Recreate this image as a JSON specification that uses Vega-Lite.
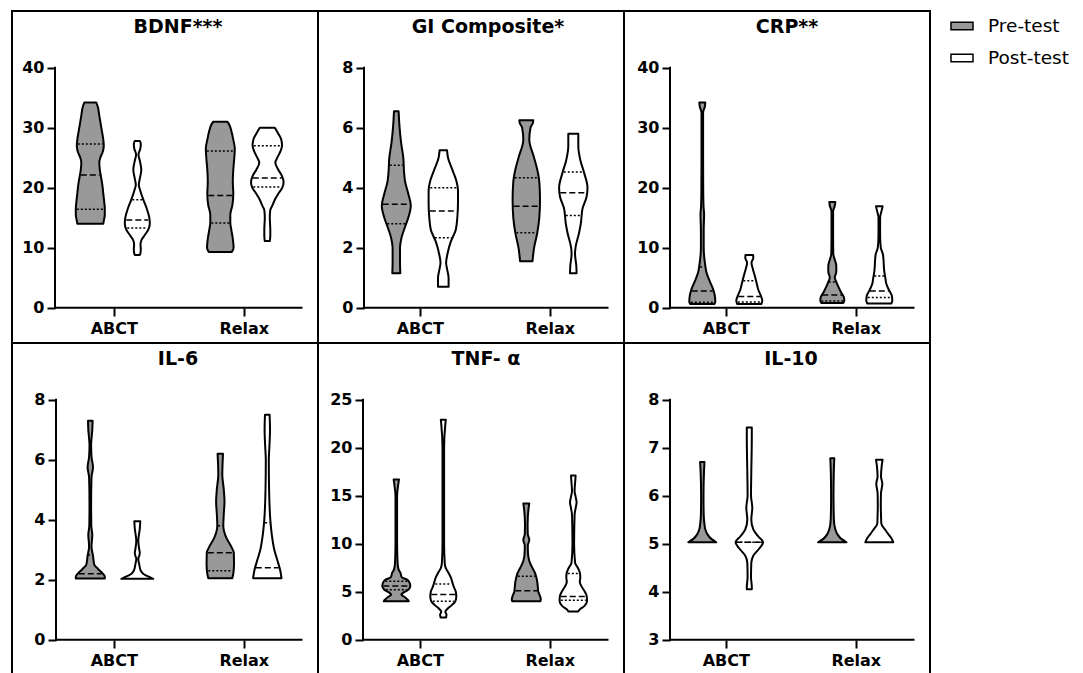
{
"$schema": "https://vega.github.io/schema/vega-lite/v6.json",
"padding": {"left": 11, "top": 10, "right": 0, "bottom": 0},
"background": "white",
"data": {"values": [
{"p":"BDNF","g":"A","c":"Pre-test","v":34.2,"w":0.6},{"p":"BDNF","g":"A","c":"Pre-test","v":33.5,"w":0.75},{"p":"BDNF","g":"A","c":"Pre-test","v":32,"w":0.9},{"p":"BDNF","g":"A","c":"Pre-test","v":30,"w":1.1},{"p":"BDNF","g":"A","c":"Pre-test","v":28,"w":1.3},{"p":"BDNF","g":"A","c":"Pre-test","v":27,"w":1.35},{"p":"BDNF","g":"A","c":"Pre-test","v":26,"w":1.25},{"p":"BDNF","g":"A","c":"Pre-test","v":25,"w":1.0},{"p":"BDNF","g":"A","c":"Pre-test","v":24.2,"w":0.9},{"p":"BDNF","g":"A","c":"Pre-test","v":23,"w":0.95},{"p":"BDNF","g":"A","c":"Pre-test","v":22,"w":1.05},{"p":"BDNF","g":"A","c":"Pre-test","v":20.5,"w":1.2},{"p":"BDNF","g":"A","c":"Pre-test","v":19,"w":1.3},{"p":"BDNF","g":"A","c":"Pre-test","v":17.5,"w":1.4},{"p":"BDNF","g":"A","c":"Pre-test","v":16.5,"w":1.45},{"p":"BDNF","g":"A","c":"Pre-test","v":15.5,"w":1.45},{"p":"BDNF","g":"A","c":"Pre-test","v":14.5,"w":1.35},{"p":"BDNF","g":"A","c":"Pre-test","v":14,"w":1.3},
{"p":"BDNF","g":"A","c":"Pre-test","k":"m","v":22.1,"w":0.95},{"p":"BDNF","g":"A","c":"Pre-test","k":"q","v":27.3,"w":1.25},{"p":"BDNF","g":"A","c":"Pre-test","k":"q","v":16.4,"w":1.35},
{"p":"BDNF","g":"A","c":"Post-test","v":27.8,"w":0.25},{"p":"BDNF","g":"A","c":"Post-test","v":27.3,"w":0.35},{"p":"BDNF","g":"A","c":"Post-test","v":26.5,"w":0.3},{"p":"BDNF","g":"A","c":"Post-test","v":25.5,"w":0.12},{"p":"BDNF","g":"A","c":"Post-test","v":24.5,"w":0.25},{"p":"BDNF","g":"A","c":"Post-test","v":23,"w":0.4},{"p":"BDNF","g":"A","c":"Post-test","v":21.5,"w":0.25},{"p":"BDNF","g":"A","c":"Post-test","v":20.5,"w":0.15},{"p":"BDNF","g":"A","c":"Post-test","v":19.5,"w":0.3},{"p":"BDNF","g":"A","c":"Post-test","v":18,"w":0.6},{"p":"BDNF","g":"A","c":"Post-test","v":16.5,"w":0.95},{"p":"BDNF","g":"A","c":"Post-test","v":15,"w":1.2},{"p":"BDNF","g":"A","c":"Post-test","v":14,"w":1.25},{"p":"BDNF","g":"A","c":"Post-test","v":13,"w":1.1},{"p":"BDNF","g":"A","c":"Post-test","v":12,"w":0.7},{"p":"BDNF","g":"A","c":"Post-test","v":11.2,"w":0.4},{"p":"BDNF","g":"A","c":"Post-test","v":10.5,"w":0.32},{"p":"BDNF","g":"A","c":"Post-test","v":9.8,"w":0.35},{"p":"BDNF","g":"A","c":"Post-test","v":9,"w":0.3},{"p":"BDNF","g":"A","c":"Post-test","v":8.8,"w":0.25},
{"p":"BDNF","g":"A","c":"Post-test","k":"m","v":14.6,"w":1.1},{"p":"BDNF","g":"A","c":"Post-test","k":"q","v":13.3,"w":1.0},{"p":"BDNF","g":"A","c":"Post-test","k":"q","v":18,"w":0.5},
{"p":"BDNF","g":"R","c":"Pre-test","v":31,"w":0.7},{"p":"BDNF","g":"R","c":"Pre-test","v":30.5,"w":0.9},{"p":"BDNF","g":"R","c":"Pre-test","v":29.5,"w":1.1},{"p":"BDNF","g":"R","c":"Pre-test","v":28,"w":1.3},{"p":"BDNF","g":"R","c":"Pre-test","v":26.5,"w":1.45},{"p":"BDNF","g":"R","c":"Pre-test","v":25,"w":1.4},{"p":"BDNF","g":"R","c":"Pre-test","v":23,"w":1.3},{"p":"BDNF","g":"R","c":"Pre-test","v":21,"w":1.25},{"p":"BDNF","g":"R","c":"Pre-test","v":19,"w":1.3},{"p":"BDNF","g":"R","c":"Pre-test","v":17,"w":1.2},{"p":"BDNF","g":"R","c":"Pre-test","v":15.5,"w":1.0},{"p":"BDNF","g":"R","c":"Pre-test","v":14.2,"w":1.0},{"p":"BDNF","g":"R","c":"Pre-test","v":13,"w":1.1},{"p":"BDNF","g":"R","c":"Pre-test","v":11.5,"w":1.25},{"p":"BDNF","g":"R","c":"Pre-test","v":10,"w":1.33},{"p":"BDNF","g":"R","c":"Pre-test","v":9.3,"w":1.15},
{"p":"BDNF","g":"R","c":"Pre-test","k":"m","v":18.7,"w":1.2},{"p":"BDNF","g":"R","c":"Pre-test","k":"q","v":26.1,"w":1.35},{"p":"BDNF","g":"R","c":"Pre-test","k":"q","v":14.1,"w":0.9},
{"p":"BDNF","g":"R","c":"Post-test","v":30,"w":0.75},{"p":"BDNF","g":"R","c":"Post-test","v":29,"w":1.1},{"p":"BDNF","g":"R","c":"Post-test","v":28,"w":1.4},{"p":"BDNF","g":"R","c":"Post-test","v":27,"w":1.47},{"p":"BDNF","g":"R","c":"Post-test","v":26,"w":1.3},{"p":"BDNF","g":"R","c":"Post-test","v":25,"w":1.0},{"p":"BDNF","g":"R","c":"Post-test","v":24.2,"w":0.8},{"p":"BDNF","g":"R","c":"Post-test","v":23,"w":1.1},{"p":"BDNF","g":"R","c":"Post-test","v":22,"w":1.45},{"p":"BDNF","g":"R","c":"Post-test","v":21,"w":1.63},{"p":"BDNF","g":"R","c":"Post-test","v":20,"w":1.5},{"p":"BDNF","g":"R","c":"Post-test","v":19,"w":1.1},{"p":"BDNF","g":"R","c":"Post-test","v":18,"w":0.75},{"p":"BDNF","g":"R","c":"Post-test","v":17,"w":0.5},{"p":"BDNF","g":"R","c":"Post-test","v":16.3,"w":0.3},{"p":"BDNF","g":"R","c":"Post-test","v":15,"w":0.25},{"p":"BDNF","g":"R","c":"Post-test","v":13,"w":0.3},{"p":"BDNF","g":"R","c":"Post-test","v":12,"w":0.3},{"p":"BDNF","g":"R","c":"Post-test","v":11.1,"w":0.25},
{"p":"BDNF","g":"R","c":"Post-test","k":"m","v":21.6,"w":1.45},{"p":"BDNF","g":"R","c":"Post-test","k":"q","v":27,"w":1.35},{"p":"BDNF","g":"R","c":"Post-test","k":"q","v":20.1,"w":1.4},

{"p":"GI","g":"A","c":"Pre-test","v":6.55,"w":0.23},{"p":"GI","g":"A","c":"Pre-test","v":6,"w":0.33},{"p":"GI","g":"A","c":"Pre-test","v":5.5,"w":0.48},{"p":"GI","g":"A","c":"Pre-test","v":5,"w":0.7},{"p":"GI","g":"A","c":"Pre-test","v":4.5,"w":0.78},{"p":"GI","g":"A","c":"Pre-test","v":4.2,"w":0.88},{"p":"GI","g":"A","c":"Pre-test","v":3.8,"w":1.2},{"p":"GI","g":"A","c":"Pre-test","v":3.4,"w":1.45},{"p":"GI","g":"A","c":"Pre-test","v":3.0,"w":1.2},{"p":"GI","g":"A","c":"Pre-test","v":2.7,"w":0.88},{"p":"GI","g":"A","c":"Pre-test","v":2.3,"w":0.5},{"p":"GI","g":"A","c":"Pre-test","v":2.0,"w":0.37},{"p":"GI","g":"A","c":"Pre-test","v":1.5,"w":0.37},{"p":"GI","g":"A","c":"Pre-test","v":1.15,"w":0.4},
{"p":"GI","g":"A","c":"Pre-test","k":"m","v":3.45,"w":1.35},{"p":"GI","g":"A","c":"Pre-test","k":"q","v":2.8,"w":0.9},{"p":"GI","g":"A","c":"Pre-test","k":"q","v":4.75,"w":0.65},
{"p":"GI","g":"A","c":"Post-test","v":5.25,"w":0.37},{"p":"GI","g":"A","c":"Post-test","v":5.0,"w":0.47},{"p":"GI","g":"A","c":"Post-test","v":4.6,"w":0.9},{"p":"GI","g":"A","c":"Post-test","v":4.2,"w":1.33},{"p":"GI","g":"A","c":"Post-test","v":3.9,"w":1.47},{"p":"GI","g":"A","c":"Post-test","v":3.5,"w":1.47},{"p":"GI","g":"A","c":"Post-test","v":3.0,"w":1.4},{"p":"GI","g":"A","c":"Post-test","v":2.6,"w":1.25},{"p":"GI","g":"A","c":"Post-test","v":2.2,"w":0.75},{"p":"GI","g":"A","c":"Post-test","v":1.8,"w":0.42},{"p":"GI","g":"A","c":"Post-test","v":1.5,"w":0.28},{"p":"GI","g":"A","c":"Post-test","v":1.3,"w":0.37},{"p":"GI","g":"A","c":"Post-test","v":1.0,"w":0.53},{"p":"GI","g":"A","c":"Post-test","v":0.7,"w":0.53},
{"p":"GI","g":"A","c":"Post-test","k":"m","v":3.22,"w":1.35},{"p":"GI","g":"A","c":"Post-test","k":"q","v":4.0,"w":1.3},{"p":"GI","g":"A","c":"Post-test","k":"q","v":2.33,"w":0.85},
{"p":"GI","g":"R","c":"Pre-test","v":6.25,"w":0.7},{"p":"GI","g":"R","c":"Pre-test","v":6.15,"w":0.65},{"p":"GI","g":"R","c":"Pre-test","v":6.0,"w":0.42},{"p":"GI","g":"R","c":"Pre-test","v":5.6,"w":0.3},{"p":"GI","g":"R","c":"Pre-test","v":5.0,"w":0.78},{"p":"GI","g":"R","c":"Pre-test","v":4.6,"w":1.1},{"p":"GI","g":"R","c":"Pre-test","v":4.2,"w":1.3},{"p":"GI","g":"R","c":"Pre-test","v":3.6,"w":1.37},{"p":"GI","g":"R","c":"Pre-test","v":3.0,"w":1.3},{"p":"GI","g":"R","c":"Pre-test","v":2.5,"w":1.1},{"p":"GI","g":"R","c":"Pre-test","v":2.0,"w":0.78},{"p":"GI","g":"R","c":"Pre-test","v":1.55,"w":0.62},
{"p":"GI","g":"R","c":"Pre-test","k":"m","v":3.38,"w":1.27},{"p":"GI","g":"R","c":"Pre-test","k":"q","v":4.33,"w":1.15},{"p":"GI","g":"R","c":"Pre-test","k":"q","v":2.5,"w":1.0},
{"p":"GI","g":"R","c":"Post-test","v":5.8,"w":0.5},{"p":"GI","g":"R","c":"Post-test","v":5.4,"w":0.5},{"p":"GI","g":"R","c":"Post-test","v":4.9,"w":0.72},{"p":"GI","g":"R","c":"Post-test","v":4.5,"w":1.08},{"p":"GI","g":"R","c":"Post-test","v":4.0,"w":1.42},{"p":"GI","g":"R","c":"Post-test","v":3.7,"w":1.33},{"p":"GI","g":"R","c":"Post-test","v":3.3,"w":0.92},{"p":"GI","g":"R","c":"Post-test","v":2.8,"w":0.75},{"p":"GI","g":"R","c":"Post-test","v":2.5,"w":0.58},{"p":"GI","g":"R","c":"Post-test","v":2.0,"w":0.22},{"p":"GI","g":"R","c":"Post-test","v":1.8,"w":0.17},{"p":"GI","g":"R","c":"Post-test","v":1.4,"w":0.3},{"p":"GI","g":"R","c":"Post-test","v":1.15,"w":0.33},
{"p":"GI","g":"R","c":"Post-test","k":"m","v":3.83,"w":1.3},{"p":"GI","g":"R","c":"Post-test","k":"q","v":4.52,"w":0.95},{"p":"GI","g":"R","c":"Post-test","k":"q","v":3.07,"w":0.75},

{"p":"CRP","g":"A","c":"Pre-test","v":34.2,"w":0.3},{"p":"CRP","g":"A","c":"Pre-test","v":33.5,"w":0.25},{"p":"CRP","g":"A","c":"Pre-test","v":32.5,"w":0.08},{"p":"CRP","g":"A","c":"Pre-test","v":30,"w":0.08},{"p":"CRP","g":"A","c":"Pre-test","v":25,"w":0.08},{"p":"CRP","g":"A","c":"Pre-test","v":20,"w":0.09},{"p":"CRP","g":"A","c":"Pre-test","v":17,"w":0.12},{"p":"CRP","g":"A","c":"Pre-test","v":15.5,"w":0.18},{"p":"CRP","g":"A","c":"Pre-test","v":13,"w":0.14},{"p":"CRP","g":"A","c":"Pre-test","v":10,"w":0.14},{"p":"CRP","g":"A","c":"Pre-test","v":8,"w":0.22},{"p":"CRP","g":"A","c":"Pre-test","v":7,"w":0.3},{"p":"CRP","g":"A","c":"Pre-test","v":6,"w":0.4},{"p":"CRP","g":"A","c":"Pre-test","v":5,"w":0.6},{"p":"CRP","g":"A","c":"Pre-test","v":4,"w":0.85},{"p":"CRP","g":"A","c":"Pre-test","v":3,"w":1.1},{"p":"CRP","g":"A","c":"Pre-test","v":2,"w":1.25},{"p":"CRP","g":"A","c":"Pre-test","v":1,"w":1.3},{"p":"CRP","g":"A","c":"Pre-test","v":0.6,"w":1.2},
{"p":"CRP","g":"A","c":"Pre-test","k":"m","v":2.8,"w":1.05},{"p":"CRP","g":"A","c":"Pre-test","k":"q","v":6.8,"w":0.22},{"p":"CRP","g":"A","c":"Pre-test","k":"q","v":0.9,"w":1.15},
{"p":"CRP","g":"A","c":"Post-test","v":8.8,"w":0.38},{"p":"CRP","g":"A","c":"Post-test","v":8.3,"w":0.4},{"p":"CRP","g":"A","c":"Post-test","v":7.5,"w":0.22},{"p":"CRP","g":"A","c":"Post-test","v":6.5,"w":0.35},{"p":"CRP","g":"A","c":"Post-test","v":5,"w":0.6},{"p":"CRP","g":"A","c":"Post-test","v":4,"w":0.75},{"p":"CRP","g":"A","c":"Post-test","v":3,"w":0.9},{"p":"CRP","g":"A","c":"Post-test","v":2,"w":1.15},{"p":"CRP","g":"A","c":"Post-test","v":1.2,"w":1.3},{"p":"CRP","g":"A","c":"Post-test","v":0.6,"w":1.2},
{"p":"CRP","g":"A","c":"Post-test","k":"m","v":1.85,"w":1.1},{"p":"CRP","g":"A","c":"Post-test","k":"q","v":4.5,"w":0.6},{"p":"CRP","g":"A","c":"Post-test","k":"q","v":0.95,"w":1.15},
{"p":"CRP","g":"R","c":"Pre-test","v":17.6,"w":0.3},{"p":"CRP","g":"R","c":"Pre-test","v":17,"w":0.25},{"p":"CRP","g":"R","c":"Pre-test","v":16,"w":0.08},{"p":"CRP","g":"R","c":"Pre-test","v":12,"w":0.08},{"p":"CRP","g":"R","c":"Pre-test","v":9,"w":0.1},{"p":"CRP","g":"R","c":"Pre-test","v":8,"w":0.25},{"p":"CRP","g":"R","c":"Pre-test","v":7,"w":0.4},{"p":"CRP","g":"R","c":"Pre-test","v":6,"w":0.4},{"p":"CRP","g":"R","c":"Pre-test","v":5,"w":0.25},{"p":"CRP","g":"R","c":"Pre-test","v":4.5,"w":0.35},{"p":"CRP","g":"R","c":"Pre-test","v":3.5,"w":0.6},{"p":"CRP","g":"R","c":"Pre-test","v":2.5,"w":0.9},{"p":"CRP","g":"R","c":"Pre-test","v":1.8,"w":1.15},{"p":"CRP","g":"R","c":"Pre-test","v":1.2,"w":1.2},{"p":"CRP","g":"R","c":"Pre-test","v":0.8,"w":1.1},
{"p":"CRP","g":"R","c":"Pre-test","k":"m","v":2.1,"w":1.0},{"p":"CRP","g":"R","c":"Pre-test","k":"q","v":4.3,"w":0.35},{"p":"CRP","g":"R","c":"Pre-test","k":"q","v":1.1,"w":1.1},
{"p":"CRP","g":"R","c":"Post-test","v":16.9,"w":0.33},{"p":"CRP","g":"R","c":"Post-test","v":16.3,"w":0.25},{"p":"CRP","g":"R","c":"Post-test","v":15,"w":0.08},{"p":"CRP","g":"R","c":"Post-test","v":12,"w":0.08},{"p":"CRP","g":"R","c":"Post-test","v":10,"w":0.15},{"p":"CRP","g":"R","c":"Post-test","v":9,"w":0.35},{"p":"CRP","g":"R","c":"Post-test","v":8,"w":0.42},{"p":"CRP","g":"R","c":"Post-test","v":7,"w":0.45},{"p":"CRP","g":"R","c":"Post-test","v":6,"w":0.5},{"p":"CRP","g":"R","c":"Post-test","v":5,"w":0.6},{"p":"CRP","g":"R","c":"Post-test","v":4,"w":0.7},{"p":"CRP","g":"R","c":"Post-test","v":3,"w":0.95},{"p":"CRP","g":"R","c":"Post-test","v":2,"w":1.25},{"p":"CRP","g":"R","c":"Post-test","v":1.2,"w":1.3},{"p":"CRP","g":"R","c":"Post-test","v":0.7,"w":1.2},
{"p":"CRP","g":"R","c":"Post-test","k":"m","v":2.8,"w":0.95},{"p":"CRP","g":"R","c":"Post-test","k":"q","v":5.3,"w":0.5},{"p":"CRP","g":"R","c":"Post-test","k":"q","v":1.7,"w":1.15},

{"p":"IL6","g":"A","c":"Pre-test","v":7.3,"w":0.23},{"p":"IL6","g":"A","c":"Pre-test","v":7.0,"w":0.2},{"p":"IL6","g":"A","c":"Pre-test","v":6.5,"w":0.08},{"p":"IL6","g":"A","c":"Pre-test","v":6.1,"w":0.12},{"p":"IL6","g":"A","c":"Pre-test","v":5.75,"w":0.27},{"p":"IL6","g":"A","c":"Pre-test","v":5.4,"w":0.12},{"p":"IL6","g":"A","c":"Pre-test","v":4.5,"w":0.08},{"p":"IL6","g":"A","c":"Pre-test","v":3.8,"w":0.1},{"p":"IL6","g":"A","c":"Pre-test","v":3.5,"w":0.2},{"p":"IL6","g":"A","c":"Pre-test","v":3.1,"w":0.12},{"p":"IL6","g":"A","c":"Pre-test","v":2.8,"w":0.27},{"p":"IL6","g":"A","c":"Pre-test","v":2.5,"w":0.4},{"p":"IL6","g":"A","c":"Pre-test","v":2.35,"w":0.8},{"p":"IL6","g":"A","c":"Pre-test","v":2.2,"w":1.25},{"p":"IL6","g":"A","c":"Pre-test","v":2.1,"w":1.45},{"p":"IL6","g":"A","c":"Pre-test","v":2.04,"w":1.45},
{"p":"IL6","g":"A","c":"Pre-test","k":"m","v":2.2,"w":1.15},{"p":"IL6","g":"A","c":"Pre-test","k":"q","v":2.82,"w":0.22},
{"p":"IL6","g":"A","c":"Post-test","v":3.95,"w":0.3},{"p":"IL6","g":"A","c":"Post-test","v":3.7,"w":0.25},{"p":"IL6","g":"A","c":"Post-test","v":3.3,"w":0.1},{"p":"IL6","g":"A","c":"Post-test","v":3.0,"w":0.2},{"p":"IL6","g":"A","c":"Post-test","v":2.9,"w":0.25},{"p":"IL6","g":"A","c":"Post-test","v":2.8,"w":0.2},{"p":"IL6","g":"A","c":"Post-test","v":2.7,"w":0.1},{"p":"IL6","g":"A","c":"Post-test","v":2.5,"w":0.2},{"p":"IL6","g":"A","c":"Post-test","v":2.3,"w":0.35},{"p":"IL6","g":"A","c":"Post-test","v":2.15,"w":0.8},{"p":"IL6","g":"A","c":"Post-test","v":2.08,"w":1.3},{"p":"IL6","g":"A","c":"Post-test","v":2.03,"w":1.6},
{"p":"IL6","g":"R","c":"Pre-test","v":6.2,"w":0.27},{"p":"IL6","g":"R","c":"Pre-test","v":5.9,"w":0.23},{"p":"IL6","g":"R","c":"Pre-test","v":5.5,"w":0.2},{"p":"IL6","g":"R","c":"Pre-test","v":5.0,"w":0.35},{"p":"IL6","g":"R","c":"Pre-test","v":4.6,"w":0.42},{"p":"IL6","g":"R","c":"Pre-test","v":4.2,"w":0.35},{"p":"IL6","g":"R","c":"Pre-test","v":3.8,"w":0.3},{"p":"IL6","g":"R","c":"Pre-test","v":3.4,"w":0.6},{"p":"IL6","g":"R","c":"Pre-test","v":3.1,"w":1.1},{"p":"IL6","g":"R","c":"Pre-test","v":2.9,"w":1.35},{"p":"IL6","g":"R","c":"Pre-test","v":2.5,"w":1.37},{"p":"IL6","g":"R","c":"Pre-test","v":2.2,"w":1.3},{"p":"IL6","g":"R","c":"Pre-test","v":2.05,"w":1.2},
{"p":"IL6","g":"R","c":"Pre-test","k":"m","v":2.9,"w":1.25},{"p":"IL6","g":"R","c":"Pre-test","k":"q","v":3.8,"w":0.22},{"p":"IL6","g":"R","c":"Pre-test","k":"q","v":2.3,"w":1.2},
{"p":"IL6","g":"R","c":"Post-test","v":7.5,"w":0.23},{"p":"IL6","g":"R","c":"Post-test","v":7.0,"w":0.27},{"p":"IL6","g":"R","c":"Post-test","v":6.5,"w":0.22},{"p":"IL6","g":"R","c":"Post-test","v":6.0,"w":0.15},{"p":"IL6","g":"R","c":"Post-test","v":5.0,"w":0.18},{"p":"IL6","g":"R","c":"Post-test","v":4.0,"w":0.3},{"p":"IL6","g":"R","c":"Post-test","v":3.5,"w":0.45},{"p":"IL6","g":"R","c":"Post-test","v":3.0,"w":0.7},{"p":"IL6","g":"R","c":"Post-test","v":2.6,"w":1.05},{"p":"IL6","g":"R","c":"Post-test","v":2.3,"w":1.3},{"p":"IL6","g":"R","c":"Post-test","v":2.05,"w":1.42},
{"p":"IL6","g":"R","c":"Post-test","k":"m","v":2.4,"w":1.15},{"p":"IL6","g":"R","c":"Post-test","k":"q","v":3.9,"w":0.22},

{"p":"TNF","g":"A","c":"Pre-test","v":16.7,"w":0.27},{"p":"TNF","g":"A","c":"Pre-test","v":16.2,"w":0.2},{"p":"TNF","g":"A","c":"Pre-test","v":15,"w":0.08},{"p":"TNF","g":"A","c":"Pre-test","v":10,"w":0.08},{"p":"TNF","g":"A","c":"Pre-test","v":8,"w":0.13},{"p":"TNF","g":"A","c":"Pre-test","v":7.3,"w":0.23},{"p":"TNF","g":"A","c":"Pre-test","v":7.0,"w":0.4},{"p":"TNF","g":"A","c":"Pre-test","v":6.5,"w":0.55},{"p":"TNF","g":"A","c":"Pre-test","v":6.3,"w":1.0},{"p":"TNF","g":"A","c":"Pre-test","v":6.0,"w":1.3},{"p":"TNF","g":"A","c":"Pre-test","v":5.6,"w":1.4},{"p":"TNF","g":"A","c":"Pre-test","v":5.2,"w":1.2},{"p":"TNF","g":"A","c":"Pre-test","v":4.9,"w":0.7},{"p":"TNF","g":"A","c":"Pre-test","v":4.7,"w":0.5},{"p":"TNF","g":"A","c":"Pre-test","v":4.4,"w":0.9},{"p":"TNF","g":"A","c":"Pre-test","v":4.1,"w":1.2},{"p":"TNF","g":"A","c":"Pre-test","v":4.0,"w":1.25},
{"p":"TNF","g":"A","c":"Pre-test","k":"m","v":5.6,"w":1.3},{"p":"TNF","g":"A","c":"Pre-test","k":"q","v":6.1,"w":1.1},{"p":"TNF","g":"A","c":"Pre-test","k":"q","v":5.2,"w":1.05},
{"p":"TNF","g":"A","c":"Post-test","v":22.9,"w":0.25},{"p":"TNF","g":"A","c":"Post-test","v":22.4,"w":0.2},{"p":"TNF","g":"A","c":"Post-test","v":20,"w":0.08},{"p":"TNF","g":"A","c":"Post-test","v":15,"w":0.08},{"p":"TNF","g":"A","c":"Post-test","v":10,"w":0.08},{"p":"TNF","g":"A","c":"Post-test","v":8,"w":0.14},{"p":"TNF","g":"A","c":"Post-test","v":7.5,"w":0.23},{"p":"TNF","g":"A","c":"Post-test","v":7.0,"w":0.5},{"p":"TNF","g":"A","c":"Post-test","v":6.5,"w":0.75},{"p":"TNF","g":"A","c":"Post-test","v":6.0,"w":0.9},{"p":"TNF","g":"A","c":"Post-test","v":5.5,"w":1.05},{"p":"TNF","g":"A","c":"Post-test","v":5.0,"w":1.25},{"p":"TNF","g":"A","c":"Post-test","v":4.5,"w":1.3},{"p":"TNF","g":"A","c":"Post-test","v":4.0,"w":1.2},{"p":"TNF","g":"A","c":"Post-test","v":3.6,"w":0.85},{"p":"TNF","g":"A","c":"Post-test","v":3.2,"w":0.4},{"p":"TNF","g":"A","c":"Post-test","v":2.9,"w":0.2},{"p":"TNF","g":"A","c":"Post-test","v":2.6,"w":0.32},{"p":"TNF","g":"A","c":"Post-test","v":2.3,"w":0.27},
{"p":"TNF","g":"A","c":"Post-test","k":"m","v":4.7,"w":1.2},{"p":"TNF","g":"A","c":"Post-test","k":"q","v":5.8,"w":0.8},{"p":"TNF","g":"A","c":"Post-test","k":"q","v":4.0,"w":1.05},
{"p":"TNF","g":"R","c":"Pre-test","v":14.2,"w":0.3},{"p":"TNF","g":"R","c":"Pre-test","v":13.7,"w":0.23},{"p":"TNF","g":"R","c":"Pre-test","v":12,"w":0.13},{"p":"TNF","g":"R","c":"Pre-test","v":11,"w":0.15},{"p":"TNF","g":"R","c":"Pre-test","v":10.4,"w":0.3},{"p":"TNF","g":"R","c":"Pre-test","v":9.8,"w":0.15},{"p":"TNF","g":"R","c":"Pre-test","v":9,"w":0.17},{"p":"TNF","g":"R","c":"Pre-test","v":8.2,"w":0.3},{"p":"TNF","g":"R","c":"Pre-test","v":7.5,"w":0.6},{"p":"TNF","g":"R","c":"Pre-test","v":7.0,"w":0.85},{"p":"TNF","g":"R","c":"Pre-test","v":6.5,"w":1.0},{"p":"TNF","g":"R","c":"Pre-test","v":6.0,"w":1.1},{"p":"TNF","g":"R","c":"Pre-test","v":5.5,"w":1.15},{"p":"TNF","g":"R","c":"Pre-test","v":5.0,"w":1.2},{"p":"TNF","g":"R","c":"Pre-test","v":4.6,"w":1.35},{"p":"TNF","g":"R","c":"Pre-test","v":4.2,"w":1.45},{"p":"TNF","g":"R","c":"Pre-test","v":4.0,"w":1.4},
{"p":"TNF","g":"R","c":"Pre-test","k":"m","v":5.1,"w":1.1},{"p":"TNF","g":"R","c":"Pre-test","k":"q","v":6.6,"w":0.85},
{"p":"TNF","g":"R","c":"Post-test","v":17.1,"w":0.23},{"p":"TNF","g":"R","c":"Post-test","v":16.6,"w":0.2},{"p":"TNF","g":"R","c":"Post-test","v":15.5,"w":0.13},{"p":"TNF","g":"R","c":"Post-test","v":14.8,"w":0.25},{"p":"TNF","g":"R","c":"Post-test","v":14.3,"w":0.33},{"p":"TNF","g":"R","c":"Post-test","v":13.8,"w":0.25},{"p":"TNF","g":"R","c":"Post-test","v":13,"w":0.13},{"p":"TNF","g":"R","c":"Post-test","v":10,"w":0.08},{"p":"TNF","g":"R","c":"Post-test","v":8,"w":0.18},{"p":"TNF","g":"R","c":"Post-test","v":7.5,"w":0.45},{"p":"TNF","g":"R","c":"Post-test","v":7.0,"w":0.65},{"p":"TNF","g":"R","c":"Post-test","v":6.5,"w":0.7},{"p":"TNF","g":"R","c":"Post-test","v":6.0,"w":0.65},{"p":"TNF","g":"R","c":"Post-test","v":5.5,"w":0.85},{"p":"TNF","g":"R","c":"Post-test","v":5.0,"w":1.15},{"p":"TNF","g":"R","c":"Post-test","v":4.5,"w":1.35},{"p":"TNF","g":"R","c":"Post-test","v":4.0,"w":1.37},{"p":"TNF","g":"R","c":"Post-test","v":3.5,"w":1.1},{"p":"TNF","g":"R","c":"Post-test","v":3.1,"w":0.6},{"p":"TNF","g":"R","c":"Post-test","v":2.95,"w":0.5},
{"p":"TNF","g":"R","c":"Post-test","k":"m","v":4.5,"w":1.25},{"p":"TNF","g":"R","c":"Post-test","k":"q","v":6.9,"w":0.55},{"p":"TNF","g":"R","c":"Post-test","k":"q","v":4.1,"w":1.25},

{"p":"IL10","g":"A","c":"Pre-test","v":6.7,"w":0.22},{"p":"IL10","g":"A","c":"Pre-test","v":6.5,"w":0.17},{"p":"IL10","g":"A","c":"Pre-test","v":6.0,"w":0.12},{"p":"IL10","g":"A","c":"Pre-test","v":5.6,"w":0.14},{"p":"IL10","g":"A","c":"Pre-test","v":5.4,"w":0.22},{"p":"IL10","g":"A","c":"Pre-test","v":5.3,"w":0.3},{"p":"IL10","g":"A","c":"Pre-test","v":5.2,"w":0.5},{"p":"IL10","g":"A","c":"Pre-test","v":5.1,"w":0.9},{"p":"IL10","g":"A","c":"Pre-test","v":5.03,"w":1.4},
{"p":"IL10","g":"A","c":"Post-test","v":7.42,"w":0.25},{"p":"IL10","g":"A","c":"Post-test","v":7.2,"w":0.25},{"p":"IL10","g":"A","c":"Post-test","v":6.5,"w":0.2},{"p":"IL10","g":"A","c":"Post-test","v":6.0,"w":0.17},{"p":"IL10","g":"A","c":"Post-test","v":5.75,"w":0.3},{"p":"IL10","g":"A","c":"Post-test","v":5.5,"w":0.2},{"p":"IL10","g":"A","c":"Post-test","v":5.3,"w":0.4},{"p":"IL10","g":"A","c":"Post-test","v":5.15,"w":0.9},{"p":"IL10","g":"A","c":"Post-test","v":5.03,"w":1.38},{"p":"IL10","g":"A","c":"Post-test","v":4.9,"w":1.0},{"p":"IL10","g":"A","c":"Post-test","v":4.75,"w":0.4},{"p":"IL10","g":"A","c":"Post-test","v":4.6,"w":0.2},{"p":"IL10","g":"A","c":"Post-test","v":4.3,"w":0.17},{"p":"IL10","g":"A","c":"Post-test","v":4.1,"w":0.25},{"p":"IL10","g":"A","c":"Post-test","v":4.05,"w":0.25},
{"p":"IL10","g":"A","c":"Post-test","k":"m","v":5.03,"w":1.3},{"p":"IL10","g":"A","c":"Post-test","k":"q","v":5.03,"w":1.3},
{"p":"IL10","g":"R","c":"Pre-test","v":6.78,"w":0.2},{"p":"IL10","g":"R","c":"Pre-test","v":6.5,"w":0.15},{"p":"IL10","g":"R","c":"Pre-test","v":6.0,"w":0.12},{"p":"IL10","g":"R","c":"Pre-test","v":5.5,"w":0.16},{"p":"IL10","g":"R","c":"Pre-test","v":5.3,"w":0.3},{"p":"IL10","g":"R","c":"Pre-test","v":5.2,"w":0.5},{"p":"IL10","g":"R","c":"Pre-test","v":5.1,"w":0.9},{"p":"IL10","g":"R","c":"Pre-test","v":5.03,"w":1.42},
{"p":"IL10","g":"R","c":"Post-test","v":6.75,"w":0.33},{"p":"IL10","g":"R","c":"Post-test","v":6.6,"w":0.23},{"p":"IL10","g":"R","c":"Post-test","v":6.4,"w":0.17},{"p":"IL10","g":"R","c":"Post-test","v":6.25,"w":0.3},{"p":"IL10","g":"R","c":"Post-test","v":6.05,"w":0.17},{"p":"IL10","g":"R","c":"Post-test","v":5.8,"w":0.15},{"p":"IL10","g":"R","c":"Post-test","v":5.6,"w":0.17},{"p":"IL10","g":"R","c":"Post-test","v":5.42,"w":0.2},{"p":"IL10","g":"R","c":"Post-test","v":5.3,"w":0.55},{"p":"IL10","g":"R","c":"Post-test","v":5.2,"w":0.9},{"p":"IL10","g":"R","c":"Post-test","v":5.1,"w":1.25},{"p":"IL10","g":"R","c":"Post-test","v":5.03,"w":1.4}
]},
"transform": [
  {"calculate": "(datum.g=='A'?0:13)+(datum.c=='Pre-test'?-2.35:2.35)", "as": "xc"},
  {"calculate": "datum.xc-datum.w", "as": "xl"},
  {"calculate": "datum.xc+datum.w", "as": "xr"}
],
"columns": 3,
"spacing": 0,
"bounds": "flush",
"concat": [
{"width": 306, "height": 332, "title": {"text": "BDNF***", "dx": 13},
 "transform": [{"filter": "datum.p=='BDNF'"}],
 "layer": [
  {"transform": [{"filter": "!datum.k"}],
   "mark": {"type": "area", "orient": "horizontal", "interpolate": "monotone", "stroke": "black", "strokeWidth": 2, "strokeJoin": "round"},
   "encoding": {
    "y": {"field": "v", "type": "quantitative", "title": null, "scale": {"domain": [-5.883, 49.45], "nice": false, "zero": false}, "axis": {"values": [0,10,20,30,40], "offset": -43}},
    "x": {"field": "xl", "type": "quantitative", "title": null, "scale": {"domain": [-10.18, 20.42], "nice": false, "zero": false}, "axis": {"values": [0,13], "offset": -35, "labelExpr": "datum.value==0?'ABCT':'Relax'"}},
    "x2": {"field": "xr"},
    "detail": {"field": "g"},
    "fill": {"field": "c", "type": "nominal", "scale": {"domain": ["Pre-test","Post-test"], "range": ["#999999","#ffffff"]}}
   }},
  {"transform": [{"filter": "datum.k"}],
   "mark": {"type": "rule", "color": "black", "strokeWidth": 1.5},
   "encoding": {"y": {"field": "v", "type": "quantitative"}, "x": {"field": "xl", "type": "quantitative"}, "x2": {"field": "xr"},
    "strokeDash": {"field": "k", "type": "nominal", "scale": {"domain": ["m","q"], "range": [[6,3],[2,2]]}, "legend": null}}},
  {"data": {"values": [{}]}, "mark": {"type": "rule", "color": "black", "strokeWidth": 2, "strokeCap": "square"},
   "encoding": {"x": {"datum": -5.88}, "y": {"datum": 0}, "y2": {"datum": 40}}},
  {"data": {"values": [{}]}, "mark": {"type": "rule", "color": "black", "strokeWidth": 2, "strokeCap": "square"},
   "encoding": {"y": {"datum": 0}, "x": {"datum": -5.88}, "x2": {"datum": 18.77}}}
 ]},
{"width": 306, "height": 332, "title": {"text": "GI Composite*", "dx": 17},
 "transform": [{"filter": "datum.p=='GI'"}],
 "layer": [
  {"transform": [{"filter": "!datum.k"}],
   "mark": {"type": "area", "orient": "horizontal", "interpolate": "monotone", "stroke": "black", "strokeWidth": 2, "strokeJoin": "round"},
   "encoding": {
    "y": {"field": "v", "type": "quantitative", "title": null, "scale": {"domain": [-1.177, 9.89], "nice": false, "zero": false}, "axis": {"values": [0,2,4,6,8], "offset": -46}},
    "x": {"field": "xl", "type": "quantitative", "title": null, "scale": {"domain": [-10.18, 20.42], "nice": false, "zero": false}, "axis": {"values": [0,13], "offset": -35, "labelExpr": "datum.value==0?'ABCT':'Relax'"}},
    "x2": {"field": "xr"},
    "detail": {"field": "g"},
    "fill": {"field": "c", "type": "nominal", "scale": {"domain": ["Pre-test","Post-test"], "range": ["#999999","#ffffff"]}}
   }},
  {"transform": [{"filter": "datum.k"}],
   "mark": {"type": "rule", "color": "black", "strokeWidth": 1.5},
   "encoding": {"y": {"field": "v", "type": "quantitative"}, "x": {"field": "xl", "type": "quantitative"}, "x2": {"field": "xr"},
    "strokeDash": {"field": "k", "type": "nominal", "scale": {"domain": ["m","q"], "range": [[6,3],[2,2]]}, "legend": null}}},
  {"data": {"values": [{}]}, "mark": {"type": "rule", "color": "black", "strokeWidth": 2, "strokeCap": "square"},
   "encoding": {"x": {"datum": -5.58}, "y": {"datum": 0}, "y2": {"datum": 8}}},
  {"data": {"values": [{}]}, "mark": {"type": "rule", "color": "black", "strokeWidth": 2, "strokeCap": "square"},
   "encoding": {"y": {"datum": 0}, "x": {"datum": -5.58}, "x2": {"datum": 18.77}}}
 ]},
{"width": 306, "height": 332, "title": {"text": "CRP**", "dx": 10},
 "transform": [{"filter": "datum.p=='CRP'"}],
 "layer": [
  {"transform": [{"filter": "!datum.k"}],
   "mark": {"type": "area", "orient": "horizontal", "interpolate": "monotone", "stroke": "black", "strokeWidth": 2, "strokeJoin": "round"},
   "encoding": {
    "y": {"field": "v", "type": "quantitative", "title": null, "scale": {"domain": [-5.883, 49.45], "nice": false, "zero": false}, "axis": {"values": [0,10,20,30,40], "offset": -46}},
    "x": {"field": "xl", "type": "quantitative", "title": null, "scale": {"domain": [-10.18, 20.42], "nice": false, "zero": false}, "axis": {"values": [0,13], "offset": -35, "labelExpr": "datum.value==0?'ABCT':'Relax'"}},
    "x2": {"field": "xr"},
    "detail": {"field": "g"},
    "fill": {"field": "c", "type": "nominal", "scale": {"domain": ["Pre-test","Post-test"], "range": ["#999999","#ffffff"]}}
   }},
  {"transform": [{"filter": "datum.k"}],
   "mark": {"type": "rule", "color": "black", "strokeWidth": 1.5},
   "encoding": {"y": {"field": "v", "type": "quantitative"}, "x": {"field": "xl", "type": "quantitative"}, "x2": {"field": "xr"},
    "strokeDash": {"field": "k", "type": "nominal", "scale": {"domain": ["m","q"], "range": [[6,3],[2,2]]}, "legend": null}}},
  {"data": {"values": [{}]}, "mark": {"type": "rule", "color": "black", "strokeWidth": 2, "strokeCap": "square"},
   "encoding": {"x": {"datum": -5.58}, "y": {"datum": 0}, "y2": {"datum": 40}}},
  {"data": {"values": [{}]}, "mark": {"type": "rule", "color": "black", "strokeWidth": 2, "strokeCap": "square"},
   "encoding": {"y": {"datum": 0}, "x": {"datum": -5.58}, "x2": {"datum": 18.77}}}
 ]},
{"width": 306, "height": 332, "title": {"text": "IL-6", "dx": 13},
 "transform": [{"filter": "datum.p=='IL6'"}],
 "layer": [
  {"transform": [{"filter": "!datum.k"}],
   "mark": {"type": "area", "orient": "horizontal", "interpolate": "monotone", "stroke": "black", "strokeWidth": 2, "strokeJoin": "round"},
   "encoding": {
    "y": {"field": "v", "type": "quantitative", "title": null, "scale": {"domain": [-1.177, 9.89], "nice": false, "zero": false}, "axis": {"values": [0,2,4,6,8], "offset": -44}},
    "x": {"field": "xl", "type": "quantitative", "title": null, "scale": {"domain": [-10.18, 20.42], "nice": false, "zero": false}, "axis": {"values": [0,13], "offset": -35, "labelExpr": "datum.value==0?'ABCT':'Relax'"}},
    "x2": {"field": "xr"},
    "detail": {"field": "g"},
    "fill": {"field": "c", "type": "nominal", "scale": {"domain": ["Pre-test","Post-test"], "range": ["#999999","#ffffff"]}}
   }},
  {"transform": [{"filter": "datum.k"}],
   "mark": {"type": "rule", "color": "black", "strokeWidth": 1.5},
   "encoding": {"y": {"field": "v", "type": "quantitative"}, "x": {"field": "xl", "type": "quantitative"}, "x2": {"field": "xr"},
    "strokeDash": {"field": "k", "type": "nominal", "scale": {"domain": ["m","q"], "range": [[6,3],[2,2]]}, "legend": null}}},
  {"data": {"values": [{}]}, "mark": {"type": "rule", "color": "black", "strokeWidth": 2, "strokeCap": "square"},
   "encoding": {"x": {"datum": -5.78}, "y": {"datum": 0}, "y2": {"datum": 8}}},
  {"data": {"values": [{}]}, "mark": {"type": "rule", "color": "black", "strokeWidth": 2, "strokeCap": "square"},
   "encoding": {"y": {"datum": 0}, "x": {"datum": -5.78}, "x2": {"datum": 18.77}}}
 ]},
{"width": 306, "height": 332, "title": {"text": "TNF- α", "dx": 15},
 "transform": [{"filter": "datum.p=='TNF'"}],
 "layer": [
  {"transform": [{"filter": "!datum.k"}],
   "mark": {"type": "area", "orient": "horizontal", "interpolate": "monotone", "stroke": "black", "strokeWidth": 2, "strokeJoin": "round"},
   "encoding": {
    "y": {"field": "v", "type": "quantitative", "title": null, "scale": {"domain": [-3.677, 30.906], "nice": false, "zero": false}, "axis": {"values": [0,5,10,15,20,25], "offset": -45}},
    "x": {"field": "xl", "type": "quantitative", "title": null, "scale": {"domain": [-10.18, 20.42], "nice": false, "zero": false}, "axis": {"values": [0,13], "offset": -35, "labelExpr": "datum.value==0?'ABCT':'Relax'"}},
    "x2": {"field": "xr"},
    "detail": {"field": "g"},
    "fill": {"field": "c", "type": "nominal", "scale": {"domain": ["Pre-test","Post-test"], "range": ["#999999","#ffffff"]}}
   }},
  {"transform": [{"filter": "datum.k"}],
   "mark": {"type": "rule", "color": "black", "strokeWidth": 1.5},
   "encoding": {"y": {"field": "v", "type": "quantitative"}, "x": {"field": "xl", "type": "quantitative"}, "x2": {"field": "xr"},
    "strokeDash": {"field": "k", "type": "nominal", "scale": {"domain": ["m","q"], "range": [[6,3],[2,2]]}, "legend": null}}},
  {"data": {"values": [{}]}, "mark": {"type": "rule", "color": "black", "strokeWidth": 2, "strokeCap": "square"},
   "encoding": {"x": {"datum": -5.68}, "y": {"datum": 0}, "y2": {"datum": 25}}},
  {"data": {"values": [{}]}, "mark": {"type": "rule", "color": "black", "strokeWidth": 2, "strokeCap": "square"},
   "encoding": {"y": {"datum": 0}, "x": {"datum": -5.68}, "x2": {"datum": 18.77}}}
 ]},
{"width": 306, "height": 332, "title": {"text": "IL-10", "dx": 14},
 "transform": [{"filter": "datum.p=='IL10'"}],
 "layer": [
  {"transform": [{"filter": "!datum.k"}],
   "mark": {"type": "area", "orient": "horizontal", "interpolate": "monotone", "stroke": "black", "strokeWidth": 2, "strokeJoin": "round"},
   "encoding": {
    "y": {"field": "v", "type": "quantitative", "title": null, "scale": {"domain": [2.2646, 9.181], "nice": false, "zero": false}, "axis": {"values": [3,4,5,6,7,8], "offset": -46}},
    "x": {"field": "xl", "type": "quantitative", "title": null, "scale": {"domain": [-10.18, 20.42], "nice": false, "zero": false}, "axis": {"values": [0,13], "offset": -35, "labelExpr": "datum.value==0?'ABCT':'Relax'"}},
    "x2": {"field": "xr"},
    "detail": {"field": "g"},
    "fill": {"field": "c", "type": "nominal", "scale": {"domain": ["Pre-test","Post-test"], "range": ["#999999","#ffffff"]}}
   }},
  {"transform": [{"filter": "datum.k"}],
   "mark": {"type": "rule", "color": "black", "strokeWidth": 1.5},
   "encoding": {"y": {"field": "v", "type": "quantitative"}, "x": {"field": "xl", "type": "quantitative"}, "x2": {"field": "xr"},
    "strokeDash": {"field": "k", "type": "nominal", "scale": {"domain": ["m","q"], "range": [[6,3],[2,2]]}, "legend": null}}},
  {"data": {"values": [{}]}, "mark": {"type": "rule", "color": "black", "strokeWidth": 2, "strokeCap": "square"},
   "encoding": {"x": {"datum": -5.58}, "y": {"datum": 3}, "y2": {"datum": 8}}},
  {"data": {"values": [{}]}, "mark": {"type": "rule", "color": "black", "strokeWidth": 2, "strokeCap": "square"},
   "encoding": {"y": {"datum": 3}, "x": {"datum": -5.58}, "x2": {"datum": 18.77}}}
 ]}
],
"config": {
  "font": "DejaVu Sans",
  "view": {"stroke": "black", "strokeWidth": 2},
  "axis": {"domain": false, "grid": false, "ticks": true, "tickSize": 8, "tickWidth": 2, "tickColor": "black", "labelFont": "DejaVu Sans", "labelFontWeight": "bold", "labelFontSize": 16, "labelColor": "black", "labelPadding": 3, "labelFlush": false, "labelOverlap": false},
  "axisX": {"labelPadding": 4},
  "title": {"font": "DejaVu Sans", "fontSize": 19, "fontWeight": "bold", "color": "black", "offset": -26, "frame": "group", "anchor": "middle"},
  "legend": {"orient": "right", "title": null, "symbolType": "M-1,-0.34H1V0.34H-1Z", "symbolSize": 484, "symbolStrokeColor": "black", "symbolStrokeWidth": 1.5, "labelFont": "DejaVu Sans", "labelFontSize": 18.5, "labelColor": "black", "labelOffset": 14, "rowPadding": 10, "offset": 16, "padding": 3}
}
}
